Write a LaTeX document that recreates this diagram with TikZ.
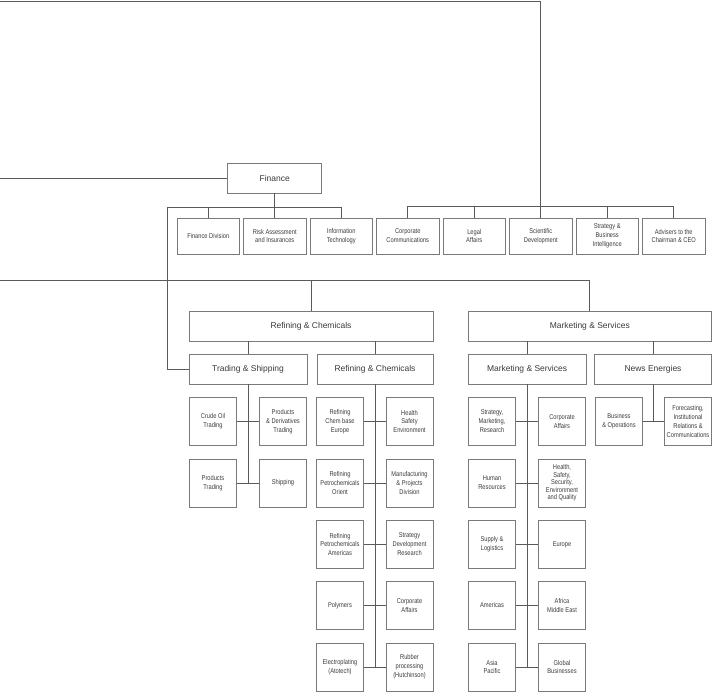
\documentclass[tikz,border=0pt]{standalone}
\usepackage{fontspec}
\setmainfont{Liberation Sans}
\newfontfamily\condf[FakeStretch=0.82]{Liberation Sans}
\definecolor{boxgray}{HTML}{7A7A7A}
\definecolor{linegray}{HTML}{5A5A5A}
\definecolor{textgray}{HTML}{3A3A3A}
\tikzset{
  box/.style={draw=boxgray, line width=0.8bp, inner sep=0pt, align=center, text=textgray},
  bigbox/.style={box, minimum height=30bp, font=\fontsize{8.5}{10}\selectfont},
  smallbox/.style={box, minimum width=62.5bp, minimum height=36bp, font=\condf\fontsize{7}{9}\selectfont},
  subbox/.style={box, minimum width=47bp, minimum height=48bp, font=\condf\fontsize{7}{9}\selectfont},
  link/.style={draw=linegray, line width=0.8bp}
}
\begin{document}
\begin{tikzpicture}[x=1bp,y=-1bp]
\useasboundingbox (0,0) rectangle (712,692);

% top level
\node[bigbox, minimum width=94bp] (fin) at (274.75,178) {Finance};
\node[smallbox] (fd)    at (208.25,236) {Finance Division};
\node[smallbox] (risk)  at (274.75,236) {Risk Assessment\\and Insurances};
\node[smallbox] (it)    at (341.25,236) {Information\\Technology};
\node[smallbox] (cc)    at (407.75,236) {Corporate\\Communications};
\node[smallbox] (legal) at (474.25,236) {Legal\\Affairs};
\node[smallbox] (sci)   at (540.75,236) {Scientific\\Development};
\node[smallbox] (strat) at (607.25,236) {Strategy \&\\Business\\Intelligence};
\node[smallbox] (adv)   at (673.75,236) {Advisers to the\\Chairman \& CEO};

% divisions
\node[bigbox, minimum width=244bp] (rcbig) at (311,326) {Refining \& Chemicals};
\node[bigbox, minimum width=243bp] (msbig) at (589.75,326) {Marketing \& Services};
\node[bigbox, minimum width=118bp] (ts) at (248,369) {Trading \& Shipping};
\node[bigbox, minimum width=116bp] (rc) at (375,369) {Refining \& Chemicals};
\node[bigbox, minimum width=118bp] (ms) at (527,369) {Marketing \& Services};
\node[bigbox, minimum width=117bp] (ne) at (653,369) {News Energies};

% Trading & Shipping
\node[subbox] (tsA1) at (213,421.5) {Crude Oil\\Trading};
\node[subbox] (tsB1) at (283,421.5) {Products\\\& Derivatives\\Trading};
\node[subbox] (tsA2) at (213,483) {Products\\Trading};
\node[subbox] (tsB2) at (283,483) {Shipping};

% Refining & Chemicals
\node[subbox] (rcA1) at (340,421.5) {Refining\\Chem base\\Europe};
\node[subbox] (rcB1) at (409.5,421.5) {Health\\Safety\\Environment};
\node[subbox] (rcA2) at (340,483) {Refining\\Petrochemicals\\Orient};
\node[subbox] (rcB2) at (409.5,483) {Manufacturing\\\& Projects\\Division};
\node[subbox] (rcA3) at (340,544.5) {Refining\\Petrochemicals\\Americas};
\node[subbox] (rcB3) at (409.5,544.5) {Strategy\\Development\\Research};
\node[subbox] (rcA4) at (340,605.5) {Polymers};
\node[subbox] (rcB4) at (409.5,605.5) {Corporate\\Affairs};
\node[subbox] (rcA5) at (340,667) {Electroplating\\(Atotech)};
\node[subbox] (rcB5) at (409.5,667) {Rubber\\processing\\(Hutchinson)};

% Marketing & Services
\node[subbox] (msA1) at (492,421.5) {Strategy,\\Marketing,\\Research};
\node[subbox] (msB1) at (562,421.5) {Corporate\\Affairs};
\node[subbox] (msA2) at (492,483) {Human\\Resources};
\node[subbox, font=\condf\fontsize{7}{7.5}\selectfont] (msB2) at (562,483) {Health,\\Safety,\\Security,\\Environment\\and Quality};
\node[subbox] (msA3) at (492,544.5) {Supply \&\\Logistics};
\node[subbox] (msB3) at (562,544.5) {Europe};
\node[subbox] (msA4) at (492,605.5) {Americas};
\node[subbox] (msB4) at (562,605.5) {Africa\\Middle East};
\node[subbox] (msA5) at (492,667) {Asia\\Pacific};
\node[subbox] (msB5) at (562,667) {Global\\Businesses};

% News Energies
\node[subbox] (neA) at (619,421.5) {Business\\\& Operations};
\node[subbox] (neB) at (688,421.5) {Forecasting,\\Institutional\\Relations \&\\Communications};

% free ends
\coordinate (tl) at (0,1);
\coordinate (fl) at (0,178);
\coordinate (ml) at (0,280);
\coordinate (lv) at (167,207);
\coordinate (cbar) at (0,206);

% top connectors
\draw[link] (tl) -| (sci.north);
\draw[link] (fl) -- (fin.west);
\draw[link] (fin.south) -- (risk.north);
\draw[link] (lv) -| (fd.north);
\draw[link] (lv) -| (it.north);
\draw[link] (lv) |- (ts.west);
\draw[link] (cc.north) -- (cc.north |- cbar) -| (adv.north);
\draw[link] (legal.north) -- (legal.north |- cbar);
\draw[link] (strat.north) -- (strat.north |- cbar);

% division connectors
\draw[link] (ml) -| (msbig.north);
\draw[link] (rcbig.north) -- (rcbig.north |- ml);
\draw[link] (rcbig.south -| ts.north) -- (ts.north);
\draw[link] (rcbig.south -| rc.north) -- (rc.north);
\draw[link] (msbig.south -| ms.north) -- (ms.north);
\draw[link] (msbig.south -| ne.north) -- (ne.north);

% spines
\draw[link] (ts.south) -- (ts.south |- tsA2.east);
\draw[link] (rc.south) -- (rc.south |- rcA5.east);
\draw[link] (ms.south) -- (ms.south |- msA5.east);
\draw[link] (ne.south) -- (ne.south |- neA.east);

% branches
\foreach \a/\b in {tsA1/tsB1, tsA2/tsB2, rcA1/rcB1, rcA2/rcB2, rcA3/rcB3, rcA4/rcB4, rcA5/rcB5,
  msA1/msB1, msA2/msB2, msA3/msB3, msA4/msB4, msA5/msB5, neA/neB}
  \draw[link] (\a.east) -- (\b.west);
\end{tikzpicture}
\end{document}
